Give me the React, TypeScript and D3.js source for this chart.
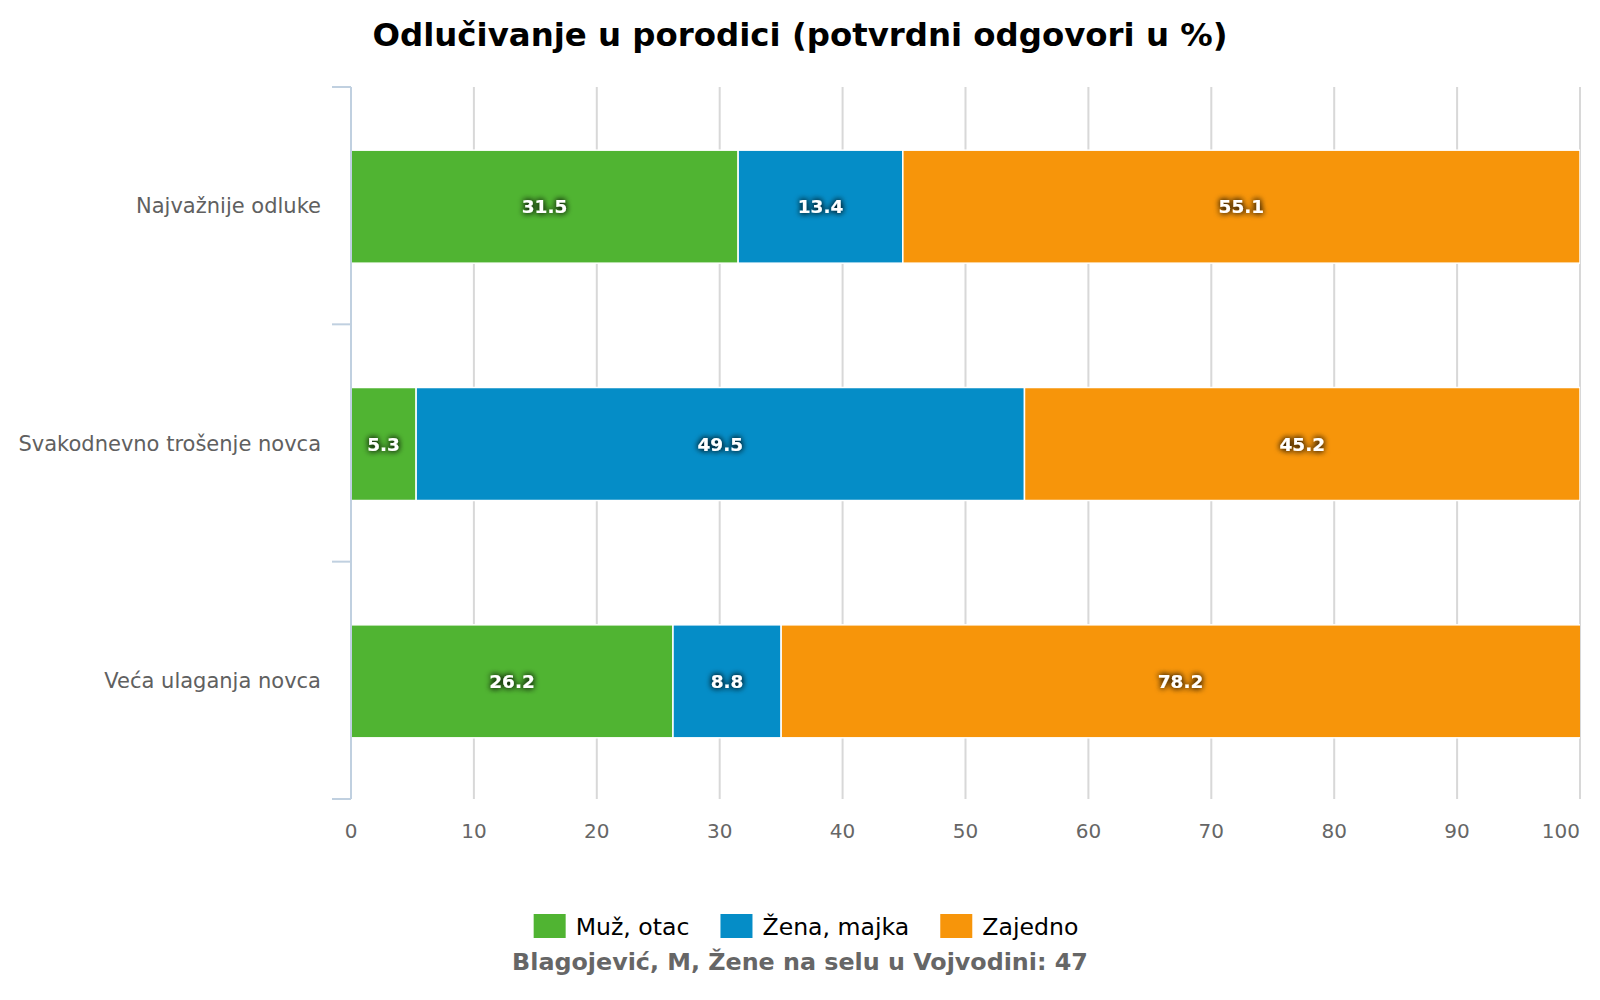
import React, { useEffect, useRef } from 'react';
import * as d3 from 'd3';

const categories = ['Najvažnije odluke', 'Svakodnevno trošenje novca', 'Veća ulaganja novca'];
const seriesNames = ['Muž, otac', 'Žena, majka', 'Zajedno'];
const muzOtac = [31.5, 5.3, 26.2];
const zenaMajka = [13.4, 49.5, 8.8];
const zajedno = [55.1, 45.2, 78.2];
const xTicks = [0, 10, 20, 30, 40, 50, 60, 70, 80, 90, 100];
const colors = ['#50B432', '#058DC7', '#F7950A'];

const titleText = 'Odlučivanje u porodici (potvrdni odgovori u %)';
const sourceText = 'Blagojević, M, Žene na selu u Vojvodini: 47';

const W = 1600;
const H = 1000;
const margin = { top: 87, right: 20, bottom: 201, left: 351 };

const App: React.FC = () => {
  const svgRef = useRef<SVGSVGElement>(null);

  useEffect(() => {
    if (!svgRef.current) return;
    const svg = d3.select(svgRef.current);
    svg.selectAll('*').remove();

    const innerW = W - margin.left - margin.right;
    const innerH = H - margin.top - margin.bottom;
    const font = '"DejaVu Sans", Verdana, sans-serif';

    // glow behind the data labels
    const defs = svg.append('defs');
    const f = defs.append('filter').attr('id', 'glow').attr('x', '-40%').attr('y', '-80%')
      .attr('width', '180%').attr('height', '260%');
    f.append('feGaussianBlur').attr('in', 'SourceAlpha').attr('stdDeviation', 3).attr('result', 'b');
    f.append('feFlood').attr('flood-color', '#000').attr('flood-opacity', 0.8);
    f.append('feComposite').attr('in2', 'b').attr('operator', 'in').attr('result', 's');
    const fm = f.append('feMerge');
    fm.append('feMergeNode').attr('in', 's');
    fm.append('feMergeNode').attr('in', 's');
    fm.append('feMergeNode').attr('in', 'SourceGraphic');
    defs.append('clipPath').attr('id', 'plotClip')
      .append('rect').attr('x', 0).attr('y', 0).attr('width', innerW).attr('height', innerH);

    svg.append('text')
      .attr('x', W / 2).attr('y', 46)
      .attr('text-anchor', 'middle')
      .attr('font-family', font).attr('font-weight', 'bold').attr('font-size', 32.4)
      .attr('fill', '#000')
      .text(titleText);

    const g = svg.append('g').attr('transform', `translate(${margin.left},${margin.top})`);

    const x = d3.scaleLinear().domain([0, 100]).range([0, innerW]);
    const y = d3.scaleBand<string>().domain(categories).range([0, innerH]).padding(0);

    g.selectAll('line.grid').data(xTicks).enter().append('line')
      .attr('x1', d => x(d)).attr('x2', d => x(d))
      .attr('y1', 0).attr('y2', innerH)
      .attr('stroke', '#d8d8d8').attr('stroke-width', 2);

    // last label is pushed inside the chart edge
    g.selectAll('text.tick').data(xTicks).enter().append('text')
      .attr('x', d => x(d))
      .attr('y', innerH + 39)
      .attr('text-anchor', d => (d === 100 ? 'end' : 'middle'))
      .attr('font-family', font).attr('font-size', 20).attr('fill', '#666')
      .text(d => String(d));

    const rows = categories.map((c, i) => ({ cat: c, vals: [muzOtac[i], zenaMajka[i], zajedno[i]] }));
    const barH = 113;
    const barOff = (y.bandwidth() - barH) / 2 + 1;

    const plot = g.append('g').attr('clip-path', 'url(#plotClip)');
    rows.forEach(r => {
      let acc = 0;
      r.vals.forEach((v, si) => {
        const x0 = acc;
        const x1 = acc + v;
        acc = x1;
        plot.append('rect')
          .attr('x', x(x0)).attr('y', (y(r.cat) as number) + barOff)
          .attr('width', x(x1) - x(x0)).attr('height', barH)
          .attr('fill', colors[si])
          .attr('stroke', '#fff').attr('stroke-width', 1.5);
        const vx0 = Math.max(0, Math.min(100, x0));
        const vx1 = Math.max(0, Math.min(100, x1));
        g.append('text')
          .attr('x', (x(vx0) + x(vx1)) / 2)
          .attr('y', (y(r.cat) as number) + y.bandwidth() / 2 + 1)
          .attr('dy', '0.36em')
          .attr('text-anchor', 'middle')
          .attr('font-family', font).attr('font-weight', 'bold').attr('font-size', 18.5)
          .attr('fill', '#fff').attr('filter', 'url(#glow)')
          .text(v.toFixed(1));
      });
    });

    g.append('line').attr('x1', 0).attr('x2', 0).attr('y1', 0).attr('y2', innerH)
      .attr('stroke', '#C0D0E0').attr('stroke-width', 2);
    const bounds = categories.map(c => y(c) as number).concat([innerH]);
    g.selectAll('line.ytick').data(bounds).enter().append('line')
      .attr('x1', -19).attr('x2', 0).attr('y1', d => d).attr('y2', d => d)
      .attr('stroke', '#C0D0E0').attr('stroke-width', 2);

    g.selectAll('text.cat').data(categories).enter().append('text')
      .attr('x', -30)
      .attr('y', d => (y(d) as number) + y.bandwidth() / 2)
      .attr('dy', '0.36em')
      .attr('text-anchor', 'end')
      .attr('font-family', font).attr('font-size', 21).attr('fill', '#606060')
      .text(d => d);

    // legend, centred under the chart
    const leg = svg.append('g');
    let lx = 0;
    seriesNames.forEach((name, i) => {
      const item = leg.append('g').attr('transform', `translate(${lx},0)`);
      item.append('rect').attr('x', 0).attr('y', -21).attr('width', 32).attr('height', 24)
        .attr('fill', colors[i]);
      const t = item.append('text').attr('x', 42).attr('y', 0)
        .attr('font-family', font).attr('font-size', 23.6).attr('fill', '#000')
        .text(name);
      const tw = (t.node() as SVGTextElement).getComputedTextLength();
      lx += 42 + tw + 31;
    });
    const legW = lx - 31;
    leg.attr('transform', `translate(${806 - legW / 2},935)`);

    svg.append('text')
      .attr('x', W / 2).attr('y', 970)
      .attr('text-anchor', 'middle')
      .attr('font-family', font).attr('font-weight', 'bold').attr('font-size', 23.8)
      .attr('fill', '#666')
      .text(sourceText);
  }, []);

  return (
    <div style={{ position: 'absolute', left: 0, top: 0 }}>
      <svg ref={svgRef} width={W} height={H} style={{ display: 'block', background: '#fff' }} />
    </div>
  );
};

export default App;
